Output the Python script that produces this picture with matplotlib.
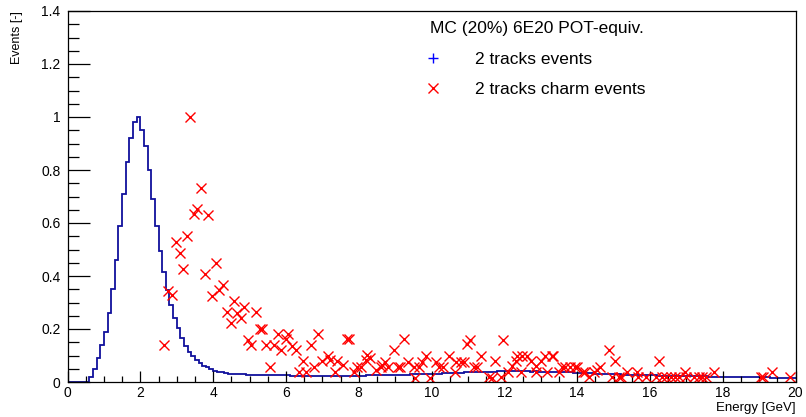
import numpy as np
import matplotlib.pyplot as plt
from matplotlib.lines import Line2D
from matplotlib.ticker import MultipleLocator

plt.rcParams['font.family'] = ['Liberation Sans', 'DejaVu Sans']

# 2 tracks events: normalised histogram, 0.1 GeV bins from 0 to 20 GeV
bin_edges = np.linspace(0, 20, 201)
tracks_events = [
    0, 0, 0, 0, 0, 0, 0.02, 0.05, 0.09, 0.14,
    0.19, 0.26, 0.35, 0.46, 0.59, 0.71, 0.83, 0.92, 0.98, 1.00,
    0.95, 0.89, 0.80, 0.69, 0.59, 0.495, 0.415, 0.347, 0.292, 0.240,
    0.203, 0.166, 0.137, 0.114, 0.097, 0.083, 0.070, 0.062, 0.055, 0.048,
    0.043, 0.039, 0.036, 0.034, 0.032, 0.031, 0.030, 0.029, 0.029, 0.028,
    0.028, 0.027, 0.027, 0.026, 0.026, 0.026, 0.025, 0.025, 0.025, 0.025,
    0.025, 0.024, 0.024, 0.024, 0.024, 0.023, 0.023, 0.023, 0.023, 0.023,
    0.023, 0.023, 0.022, 0.023, 0.023, 0.023, 0.023, 0.024, 0.023, 0.024,
    0.024, 0.024, 0.025, 0.025, 0.025, 0.026, 0.026, 0.026, 0.027, 0.027,
    0.027, 0.028, 0.028, 0.028, 0.029, 0.029, 0.030, 0.030, 0.030, 0.031,
    0.031, 0.032, 0.032, 0.033, 0.033, 0.034, 0.034, 0.035, 0.035, 0.036,
    0.036, 0.037, 0.037, 0.038, 0.038, 0.039, 0.039, 0.039, 0.040, 0.040,
    0.040, 0.040, 0.041, 0.040, 0.040, 0.040, 0.040, 0.039, 0.040, 0.039,
    0.039, 0.039, 0.038, 0.038, 0.038, 0.037, 0.037, 0.036, 0.036, 0.035,
    0.035, 0.034, 0.034, 0.033, 0.033, 0.032, 0.031, 0.031, 0.030, 0.030,
    0.029, 0.029, 0.028, 0.028, 0.027, 0.027, 0.026, 0.026, 0.026, 0.025,
    0.025, 0.025, 0.024, 0.024, 0.024, 0.023, 0.023, 0.023, 0.022, 0.022,
    0.022, 0.022, 0.021, 0.021, 0.021, 0.021, 0.020, 0.020, 0.020, 0.020,
    0.020, 0.019, 0.019, 0.019, 0.019, 0.018, 0.018, 0.018, 0.018, 0.017,
    0.017, 0.017, 0.017, 0.016, 0.016, 0.016, 0.016, 0.015, 0.015, 0.015,
]

# 2 tracks charm events (energy, normalised events)
charm_energy = [
    2.65, 2.77, 2.87, 2.97, 3.08, 3.16, 3.27, 3.36, 3.47, 3.56,
    3.67, 3.77, 3.87, 3.96, 4.07, 4.16, 4.28, 4.37, 4.48, 4.57,
    4.67, 4.77, 4.86, 4.97, 5.04, 5.17, 5.30, 5.35, 5.46, 5.57,
    5.68, 5.77, 5.87, 5.99, 6.07, 6.18, 6.28, 6.37, 6.47, 6.54,
    6.68, 6.77, 6.87, 7.00, 7.15, 7.21, 7.36, 7.41, 7.57, 7.68,
    7.73, 7.86, 7.96, 8.05, 8.19, 8.23, 8.32, 8.48, 8.60, 8.64,
    8.73, 8.81, 8.96, 9.08, 9.13, 9.25, 9.36, 9.51, 9.55, 9.65,
    9.74, 9.86, 9.97, 10.13, 10.20, 10.31, 10.47, 10.64, 10.66, 10.82,
    10.89, 10.98, 11.06, 11.17, 11.25, 11.36, 11.57, 11.66, 11.75, 11.90,
    11.97, 12.09, 12.21, 12.31, 12.35, 12.45, 12.49, 12.61, 12.72, 12.86,
    12.88, 13.00, 13.12, 13.17, 13.31, 13.35, 13.49, 13.58, 13.67, 13.81,
    13.95, 13.99, 14.17, 14.23, 14.32, 14.46, 14.55, 14.64, 14.87, 14.95,
    15.05, 15.14, 15.21, 15.37, 15.64, 15.66, 15.88, 16.18, 16.26, 16.32,
    16.43, 16.57, 16.70, 16.79, 16.96, 16.99, 17.20, 17.34, 17.44, 17.53,
    17.75, 19.05, 19.12, 19.35, 19.85,
]
charm_events = [
    0.140, 0.345, 0.328, 0.527, 0.486, 0.426, 0.551, 1.000, 0.633, 0.652,
    0.733, 0.407, 0.630, 0.325, 0.448, 0.347, 0.365, 0.264, 0.221, 0.304,
    0.261, 0.243, 0.284, 0.160, 0.141, 0.264, 0.201, 0.201, 0.140, 0.057,
    0.138, 0.181, 0.119, 0.163, 0.181, 0.137, 0.120, 0.039, 0.080, 0.039,
    0.140, 0.055, 0.181, 0.080, 0.098, 0.083, 0.039, 0.080, 0.064, 0.161,
    0.161, 0.039, 0.057, 0.055, 0.083, 0.102, 0.089, 0.045, 0.055, 0.064,
    0.077, 0.055, 0.121, 0.055, 0.055, 0.161, 0.077, 0.055, 0.016, 0.055,
    0.077, 0.098, 0.016, 0.077, 0.055, 0.055, 0.098, 0.039, 0.077, 0.077,
    0.077, 0.143, 0.158, 0.055, 0.055, 0.098, 0.020, 0.014, 0.080, 0.020,
    0.160, 0.039, 0.060, 0.080, 0.098, 0.039, 0.098, 0.098, 0.080, 0.060,
    0.039, 0.080, 0.098, 0.039, 0.098, 0.098, 0.039, 0.055, 0.055, 0.055,
    0.055, 0.055, 0.039, 0.039, 0.020, 0.039, 0.045, 0.055, 0.121, 0.020,
    0.080, 0.020, 0.020, 0.039, 0.039, 0.020, 0.020, 0.020, 0.080, 0.020,
    0.020, 0.020, 0.020, 0.020, 0.039, 0.020, 0.020, 0.018, 0.020, 0.018,
    0.039, 0.018, 0.018, 0.039, 0.018,
]

hist_color = '#10109c'

fig = plt.figure(figsize=(8.06, 4.17), dpi=100)
ax = fig.add_axes([67.5 / 806, 35 / 417, 728 / 806, 371 / 417])

ax.stairs(tracks_events, bin_edges, color=hist_color, linewidth=1.3, baseline=None)
ax.plot(charm_energy, charm_events, linestyle='none', marker='x', color='red',
        markersize=7, markeredgewidth=1.0)

ax.set_xlim(0, 20)
ax.set_ylim(0, 1.4)

# ticks inside, no ticks on the top/right frame
ax.xaxis.set_major_locator(MultipleLocator(2))
ax.xaxis.set_minor_locator(MultipleLocator(0.5))
ax.yaxis.set_major_locator(MultipleLocator(0.2))
ax.yaxis.set_minor_locator(MultipleLocator(0.05))
ax.yaxis.set_major_formatter(plt.FuncFormatter(lambda v, p: f'{v:g}'))
ax.tick_params(axis='x', which='major', direction='in', length=8, width=0.9, labelsize=10, pad=3)
ax.tick_params(axis='x', which='minor', direction='in', length=4, width=0.9)
ax.tick_params(axis='y', which='major', direction='in', length=16, width=0.9, labelsize=10, pad=5)
ax.tick_params(axis='y', which='minor', direction='in', length=8, width=0.9)
for s in ax.spines.values():
    s.set_linewidth(0.9)

ax.set_xlabel('Energy [GeV]', loc='right', fontsize=9.5, labelpad=1)
ax.set_ylabel('Events [-]', loc='top', fontsize=9, labelpad=13)

handles = [
    Line2D([], [], linestyle='none', marker='+', color='blue', markersize=7, markeredgewidth=1.0),
    Line2D([], [], linestyle='none', marker='x', color='red', markersize=7, markeredgewidth=1.0),
]
leg = ax.legend(handles, ['2 tracks events', '2 tracks charm events'],
                title='MC (20%) 6E20 POT-equiv.', loc='upper left',
                bbox_to_anchor=(0.484, 1.0), frameon=False, fontsize=12.5,
                title_fontsize=12.5, handlelength=0.3, handletextpad=2.3,
                labelspacing=0.88, borderaxespad=0.2)
leg._legend_box.align = 'left'

fig.savefig('out.png', dpi=100)
